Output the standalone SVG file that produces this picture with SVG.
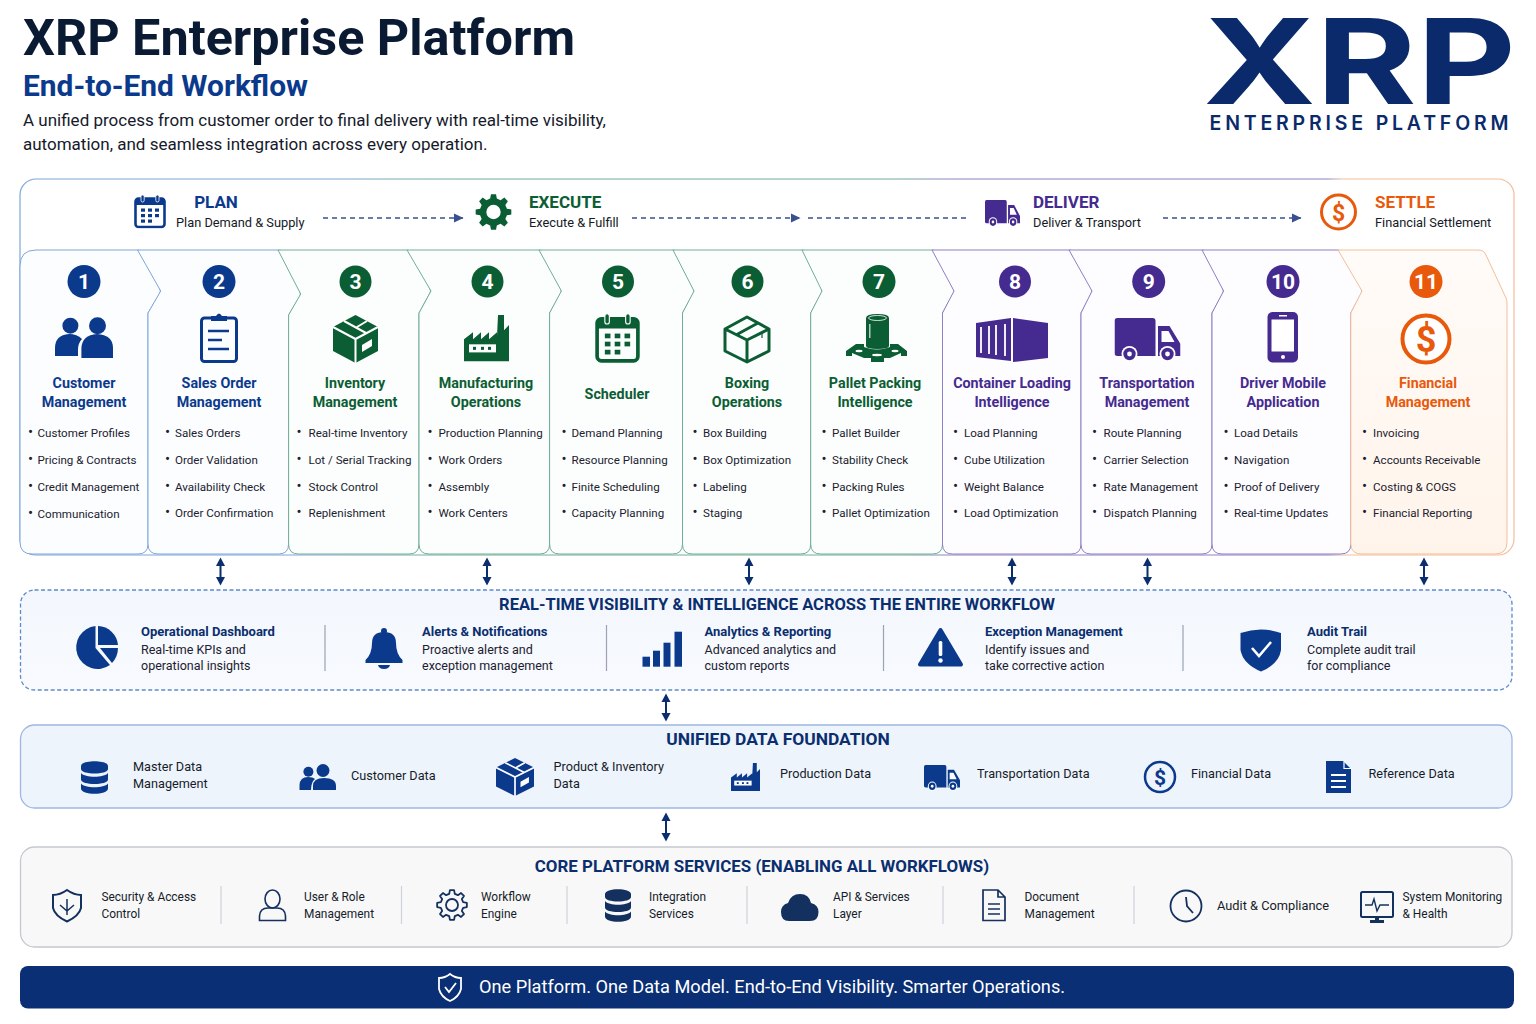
<svg xmlns="http://www.w3.org/2000/svg" xmlns:xlink="http://www.w3.org/1999/xlink" width="1536" height="1024" viewBox="0 0 1536 1024">
<style>
text{font-family:Roboto,"Noto Sans","Liberation Sans",sans-serif;}
.b{fill:#0B3A8C}.g{fill:#0B5D33}.p{fill:#452A8F}.o{fill:#E8590C}
.cb{color:#0B3A8C}.cg{color:#0B5D33}.cp{color:#452A8F}.co{color:#E8590C}.cn{color:#14305F}
.ttl{font-size:14.3px;font-weight:700;text-anchor:middle}
.ph{font-size:17px;font-weight:700}
.phs{font-size:12.8px;fill:#141a26}
.li{font-size:11.6px;fill:#1b2130}
.li tspan:nth-child(odd){font-size:15px}
.num{font-size:21px;font-weight:700;fill:#fff;text-anchor:middle}
.sec{font-size:16.500px;font-weight:700;fill:#0A2E6E;text-anchor:middle}
.it{font-size:13px;font-weight:700;fill:#0A2E6E}
.de{font-size:12.500px;fill:#1b2130}
.da{font-size:12.700px;fill:#161c2a}
.co2{font-size:11.900px;fill:#161c2a}
.card{stroke-width:1}
.dash{fill:none;stroke:#3A4F8F;stroke-width:1.4;stroke-dasharray:5 4}
.dbl{fill:none;stroke:#0A2E6E;stroke-width:2;marker-start:url(#dh);marker-end:url(#dh)}
.div{stroke:#9aa3af;stroke-width:1.2}
.div2{stroke:#cfd3d9;stroke-width:1.2}
.ol{fill:none;stroke:currentColor}
.f{fill:currentColor}
.w{fill:#fff}
</style>
<defs>
<linearGradient id="fr" gradientUnits="userSpaceOnUse" x1="20" y1="0" x2="1514" y2="0">
<stop offset="0" stop-color="#7FA6DA"/><stop offset=".2" stop-color="#7FA6DA"/><stop offset=".3" stop-color="#6FAE93"/><stop offset=".58" stop-color="#6FAE93"/><stop offset=".63" stop-color="#8E7FC6"/><stop offset=".875" stop-color="#8E7FC6"/><stop offset=".885" stop-color="#F3BE9A"/><stop offset="1" stop-color="#F3BE9A"/>
</linearGradient>
<linearGradient id="org" x1="0" y1="0" x2="0" y2="1"><stop offset="0" stop-color="#FFFBF8"/><stop offset="1" stop-color="#FFF4EA"/></linearGradient>
<linearGradient id="vis" x1="0" y1="0" x2="0" y2="1"><stop offset="0" stop-color="#F3F7FD"/><stop offset="1" stop-color="#F8FAFE"/></linearGradient>
<marker id="ah" markerWidth="10" markerHeight="10" refX="9" refY="5" orient="auto" markerUnits="userSpaceOnUse"><path d="M0,0.5 L9.5,5 L0,9.5Z" fill="#3A4F8F"/></marker>
<marker id="dh" markerWidth="10" markerHeight="10" refX="1" refY="5" orient="auto-start-reverse" markerUnits="userSpaceOnUse"><path d="M0,0.5L8.500,5L0,9.500Z" fill="#0A2E6E"/></marker>
<path id="gear" d="M11.16,-2.78L14.85,-2.09L14.85,2.09L11.16,2.78L9.86,5.92L11.98,9.03L9.03,11.98L5.92,9.86L2.78,11.16L2.09,14.85L-2.09,14.85L-2.78,11.16L-5.92,9.86L-9.03,11.98L-11.98,9.03L-9.86,5.92L-11.16,2.78L-14.85,2.09L-14.85,-2.09L-11.16,-2.78L-9.86,-5.92L-11.98,-9.03L-9.03,-11.98L-5.92,-9.86L-2.78,-11.16L-2.09,-14.85L2.09,-14.85L2.78,-11.16L5.92,-9.86L9.03,-11.98L11.98,-9.03L9.86,-5.92Z"/>
<symbol id="cal" viewBox="0 0 32 34" preserveAspectRatio="none">
<rect x="1.5" y="4" width="29" height="28.5" rx="3" class="ol" stroke-width="2.6"/><path class="f" d="M1.5,5.5Q1.5,4 3,4H29Q30.5,4 30.5,5.5V10.5H1.5Z"/>
<rect x="7" y="0.5" width="3.2" height="7" rx="1.6" class="f" stroke="#fff" stroke-width=".8"/><rect x="21.8" y="0.5" width="3.2" height="7" rx="1.6" class="f" stroke="#fff" stroke-width=".8"/>
<g class="f"><rect x="7" y="14" width="4" height="3.2"/><rect x="14" y="14" width="4" height="3.2"/><rect x="21" y="14" width="4" height="3.2"/><rect x="7" y="19.5" width="4" height="3.2"/><rect x="14" y="19.5" width="4" height="3.2"/><rect x="21" y="19.5" width="4" height="3.2"/><rect x="7" y="25" width="4" height="3.2"/><rect x="14" y="25" width="4" height="3.2"/></g>
</symbol>
<symbol id="truck" viewBox="0 0 66 44" preserveAspectRatio="none">
<g class="f"><path d="M3,0H38Q41,0 41,3V38H3Q0,38 0,35V3Q0,0 3,0Z"/><path d="M43.5,8H55L66,26V38H43.5Z"/></g>
<path class="w" d="M47,13H54L60,24H47Z"/>
<g><circle cx="15" cy="36" r="8" class="w"/><circle cx="15" cy="36" r="6.2" class="f"/><circle cx="15" cy="36" r="2.4" class="w"/><circle cx="53" cy="36" r="8" class="w"/><circle cx="53" cy="36" r="6.2" class="f"/><circle cx="53" cy="36" r="2.4" class="w"/></g>
</symbol>
<symbol id="factory" viewBox="0 0 45 46" preserveAspectRatio="none">
<path class="f" d="M0,46V24L9,17V24L17,17V24L25,17V24L33,17V21L34,0H40V15L45,10V46Z"/>
<rect x="5" y="29" width="27" height="8" class="w"/><g class="f"><rect x="9" y="31.5" width="3" height="3"/><rect x="17" y="31.5" width="3" height="3"/><rect x="24" y="31.5" width="3" height="3"/></g>
</symbol>
<symbol id="db" viewBox="0 0 27 33" preserveAspectRatio="none">
<g class="f"><path d="M0,5C0,-1.5 27,-1.5 27,5V8C27,14 0,14 0,8Z"/><path d="M0,12C4,17 23,17 27,12V18.5C27,24.5 0,24.5 0,18.5Z"/><path d="M0,22.5C4,27.5 23,27.5 27,22.5V27.5C27,34.5 0,34.5 0,27.5Z"/></g>
</symbol>
<symbol id="sbox" viewBox="0 0 45 48" preserveAspectRatio="none">
<path class="f" d="M22.5,0L45,12V36L22.5,48L0,36V12Z"/>
<g fill="none" stroke="#fff" stroke-width="2"><path d="M0,12L22.5,24L45,12M22.5,24V48"/><path d="M11,6L33,18M34,6L24,12"/></g>
<path class="w" d="M29,30L39,24V31L29,37Z"/>
</symbol>
</defs>

<g id="header">
<text x="23" y="55" font-size="50" font-weight="700" fill="#0B1A33" textLength="552" lengthAdjust="spacingAndGlyphs">XRP Enterprise Platform</text>
<text x="23" y="96" font-size="30" font-weight="700" class="b" textLength="285" lengthAdjust="spacingAndGlyphs">End-to-End Workflow</text>
<text x="23" y="126" font-size="17" fill="#15192a">A unified process from customer order to final delivery with real-time visibility,</text>
<text x="23" y="150" font-size="17" fill="#15192a">automation, and seamless integration across every operation.</text>
</g>
<g id="logo">
<text x="1203" y="104" font-size="118" font-weight="700" fill="#0A2A6B" style="font-family:Inter,'Noto Sans',sans-serif" textLength="313" lengthAdjust="spacingAndGlyphs">XRP</text>
<text x="1209.500" y="130" font-size="19.500" font-weight="600" fill="#0A2A6B" style="font-family:Inter,'Noto Sans',sans-serif" textLength="299" lengthAdjust="spacing">ENTERPRISE PLATFORM</text>
</g>

<g id="phase-frame"><rect x="20" y="179" width="1494" height="376" rx="16" fill="#fff" stroke="url(#fr)" stroke-width="1.2"/></g>

<g id="phase-plan">
<use xlink:href="#cal" href="#cal" x="134" y="194.500" width="32" height="34" class="cb"/>
<text x="216" y="207.500" class="ph b" text-anchor="middle" font-size="16">PLAN</text>
<text x="176" y="227" class="phs">Plan Demand &amp; Supply</text>
</g>
<g id="phase-execute">
<g transform="translate(493.500,212) scale(1.2)" class="cg"><use xlink:href="#gear" href="#gear" class="f"/><circle r="6" class="w"/></g>
<text x="529" y="207.500" class="ph g">EXECUTE</text>
<text x="529" y="227" class="phs">Execute &amp; Fulfill</text>
</g>
<g id="phase-deliver">
<use xlink:href="#truck" href="#truck" x="985" y="200" width="35" height="27" class="cp"/>
<text x="1033" y="207.500" class="ph p">DELIVER</text>
<text x="1033" y="227" class="phs">Deliver &amp; Transport</text>
</g>
<g id="phase-settle">
<circle cx="1338.500" cy="212" r="17" fill="none" stroke="#E8590C" stroke-width="3"/>
<text x="1338.500" y="220.500" font-size="23" font-weight="700" class="o" text-anchor="middle">$</text>
<text x="1375" y="207.500" class="ph o">SETTLE</text>
<text x="1375" y="227" class="phs">Financial Settlement</text>
</g>

<g id="card-1">
<path class="card" fill="#FCFDFF" stroke="#7FA6DA" d="M36,250H137.500Q142.500,250 144.500,255L160,289Q160.700,291 160,293L148,313V544Q148,554 138,554H32Q20,554 20,542V266Q20,250 36,250Z"/>
<circle cx="84" cy="281.500" r="16.500" class="b"/><text x="84" y="289" class="num">1</text>
<g class="b"><circle cx="70.400" cy="325.700" r="8"/><circle cx="97.500" cy="325.700" r="8.500"/><path d="M55,356V348Q55,335 69,334Q77,334 82,339Q78,343 78,350V356Z"/><path d="M81.400,358V348Q82,335 97,334Q113,335 113,348V358Z"/></g>
<text x="84" y="388" class="ttl b">Customer</text><text x="84" y="407" class="ttl b">Management</text>
<text class="li"><tspan x="28" y="437">•</tspan><tspan x="37.500">Customer Profiles</tspan><tspan x="28" y="464">•</tspan><tspan x="37.500">Pricing &amp; Contracts</tspan><tspan x="28" y="491">•</tspan><tspan x="37.500">Credit Management</tspan><tspan x="28" y="518">•</tspan><tspan x="37.500">Communication</tspan></text>
</g>
<g id="card-2">
<path class="card" fill="#FCFDFF" stroke="#7FA6DA" d="M137.500,250H278Q283,250 285,255L300,292Q300.700,294 300,296L288.600,315V544Q288.600,554 278.600,554H158Q148,554 148,544V313L160.700,291L137.500,250Z"/>
<circle cx="219" cy="281.500" r="16.500" class="b"/><text x="219" y="289" class="num">2</text>
<g class="cb"><rect x="201.500" y="318" width="35" height="43.500" rx="3" class="ol" stroke-width="3"/><path class="f" d="M211,321V316H216Q219,311 222,316H227V321Z"/><path class="ol" stroke-width="2.500" d="M208,331H229M208,340H222M208,349H229"/></g>
<text x="219" y="388" class="ttl b">Sales Order</text><text x="219" y="407" class="ttl b">Management</text>
<text class="li"><tspan x="165" y="437">•</tspan><tspan x="175" >Sales Orders</tspan><tspan x="165" y="464">•</tspan><tspan x="175">Order Validation</tspan><tspan x="165" y="491">•</tspan><tspan x="175">Availability Check</tspan><tspan x="165" y="517">•</tspan><tspan x="175">Order Confirmation</tspan></text>
</g>
<g id="card-3">
<path class="card" fill="#FCFEFD" stroke="#6FAE93" d="M278,250H407Q412,250 415,255L430,289Q431,291 430,293L419,313V544Q419,554 409,554H298.600Q288.600,554 288.600,544V315L300.700,294L278,250Z"/>
<circle cx="355.500" cy="281.500" r="16" class="g"/><text x="355.500" y="289" class="num">3</text>
<use xlink:href="#sbox" href="#sbox" x="333" y="315" width="45" height="48" class="cg"/>
<text x="355" y="388" class="ttl g">Inventory</text><text x="355" y="407" class="ttl g">Management</text>
<text class="li"><tspan x="296.500" y="437">•</tspan><tspan x="308.500">Real-time Inventory</tspan><tspan x="296.500" y="464">•</tspan><tspan x="308.500">Lot / Serial Tracking</tspan><tspan x="296.500" y="491">•</tspan><tspan x="308.500">Stock Control</tspan><tspan x="296.500" y="517">•</tspan><tspan x="308.500">Replenishment</tspan></text>
</g>
<g id="card-4">
<path class="card" fill="#FCFEFD" stroke="#6FAE93" d="M407,250H539Q544,250 546,255L561,289Q561.400,291 561,293L549.600,313V544Q549.600,554 539.600,554H429Q419,554 419,544V313L431,291L407,250Z"/>
<circle cx="487.500" cy="281.500" r="16" class="g"/><text x="487.500" y="289" class="num">4</text>
<use xlink:href="#factory" href="#factory" x="464" y="315" width="45" height="46.500" class="cg"/>
<text x="486" y="388" class="ttl g">Manufacturing</text><text x="486" y="407" class="ttl g">Operations</text>
<text class="li"><tspan x="427.500" y="437">•</tspan><tspan x="438.500">Production Planning</tspan><tspan x="427.500" y="464">•</tspan><tspan x="438.500">Work Orders</tspan><tspan x="427.500" y="491">•</tspan><tspan x="438.500">Assembly</tspan><tspan x="427.500" y="517">•</tspan><tspan x="438.500">Work Centers</tspan></text>
</g>
<g id="card-5">
<path class="card" fill="#FCFEFD" stroke="#6FAE93" d="M539,250H673Q678,250 680,255L693.500,289Q694,291 693.500,293L682.500,313V544Q682.500,554 672.500,554H559.600Q549.600,554 549.600,544V313L561.400,291L539,250Z"/>
<circle cx="618" cy="281.500" r="16" class="g"/><text x="618" y="289" class="num">5</text>
<use xlink:href="#cal" href="#cal" x="595" y="313" width="45" height="50" class="cg"/>
<text x="617" y="399" class="ttl g">Scheduler</text>
<text class="li"><tspan x="561.500" y="437">•</tspan><tspan x="571.500">Demand Planning</tspan><tspan x="561.500" y="464">•</tspan><tspan x="571.500">Resource Planning</tspan><tspan x="561.500" y="491">•</tspan><tspan x="571.500">Finite Scheduling</tspan><tspan x="561.500" y="517">•</tspan><tspan x="571.500">Capacity Planning</tspan></text>
</g>
<g id="card-6">
<path class="card" fill="#FCFEFD" stroke="#6FAE93" d="M673,250H802Q807,250 809,255L821.500,289Q822,291 821.500,293L810.700,313V544Q810.700,554 800.700,554H692.500Q682.500,554 682.500,544V313L694,291L673,250Z"/>
<circle cx="747.500" cy="281.500" r="16" class="g"/><text x="747.500" y="289" class="num">6</text>
<g class="cg"><path class="ol" stroke-width="3" stroke-linejoin="round" d="M747,317L769,329V351L747,362L725,351V329ZM725,329L747,340L769,329M747,340V362M736,335L758,323"/><path class="ol" stroke-width="1.200" d="M762,333V338"/></g>
<text x="747" y="388" class="ttl g">Boxing</text><text x="747" y="407" class="ttl g">Operations</text>
<text class="li"><tspan x="692.500" y="437">•</tspan><tspan x="703">Box Building</tspan><tspan x="692.500" y="464">•</tspan><tspan x="703">Box Optimization</tspan><tspan x="692.500" y="491">•</tspan><tspan x="703">Labeling</tspan><tspan x="692.500" y="517">•</tspan><tspan x="703">Staging</tspan></text>
</g>
<g id="card-7">
<path class="card" fill="#FCFEFD" stroke="#6FAE93" d="M802,250H932Q937,250 939,255L953.500,289Q954,291 953.500,293L942.500,313V544Q942.500,554 932.500,554H820.700Q810.700,554 810.700,544V313L822,291L802,250Z"/>
<circle cx="879" cy="281.500" r="16.500" class="g"/><text x="879" y="289" class="num">7</text>
<g class="g"><path d="M866,318Q866,314 877.500,314Q889,314 889,318V346Q889,349 877.500,349Q866,349 866,346Z"/><path d="M856,344H864V347Q877,352 890,347V344H898L907,351V356H901V353L890,358H884V362H871V358H864L852,353V356H846V351Z"/></g>
<ellipse cx="877.500" cy="318" rx="9" ry="2.500" fill="none" stroke="#fff" stroke-width=".8"/><rect x="869" y="324" width="1.500" height="14" fill="#fff" opacity=".7"/>
<g fill="#fff"><ellipse cx="859" cy="351" rx="3.500" ry="1.200"/><ellipse cx="895" cy="351" rx="3.500" ry="1.200"/><ellipse cx="877" cy="355" rx="5" ry="1.200"/></g>
<text x="875" y="388" class="ttl g">Pallet Packing</text><text x="875" y="407" class="ttl g">Intelligence</text>
<text class="li"><tspan x="821.500" y="437">•</tspan><tspan x="832">Pallet Builder</tspan><tspan x="821.500" y="464">•</tspan><tspan x="832">Stability Check</tspan><tspan x="821.500" y="491">•</tspan><tspan x="832">Packing Rules</tspan><tspan x="821.500" y="517">•</tspan><tspan x="832">Pallet Optimization</tspan></text>
</g>
<g id="card-8">
<path class="card" fill="#FDFCFF" stroke="#8E7FC6" d="M932,250H1069Q1074,250 1076,255L1091.500,289Q1092,291 1091.500,293L1081,313V544Q1081,554 1071,554H952.500Q942.500,554 942.500,544V313L954,291L932,250Z"/>
<circle cx="1015" cy="281.500" r="16" class="p"/><text x="1015" y="289" class="num">8</text>
<g class="p"><path d="M976,323L1011,318V361L976,357Z"/><path d="M1013,318L1048,323V358L1013,362Z"/></g>
<path d="M981,327V353M989,326V354M996,325V355M1005,324V356" stroke="#fff" stroke-width="1.800"/>
<text x="1012" y="388" class="ttl p">Container Loading</text><text x="1012" y="407" class="ttl p">Intelligence</text>
<text class="li"><tspan x="953" y="437">•</tspan><tspan x="964">Load Planning</tspan><tspan x="953" y="464">•</tspan><tspan x="964">Cube Utilization</tspan><tspan x="953" y="491">•</tspan><tspan x="964">Weight Balance</tspan><tspan x="953" y="517">•</tspan><tspan x="964">Load Optimization</tspan></text>
</g>
<g id="card-9">
<path class="card" fill="#FDFCFF" stroke="#8E7FC6" d="M1069,250H1202Q1207,250 1209,255L1223,289Q1223.600,291 1223,293L1212,313V544Q1212,554 1202,554H1091Q1081,554 1081,544V313L1092,291L1069,250Z"/>
<circle cx="1148.700" cy="281.500" r="16.500" class="p"/><text x="1148.700" y="289" class="num">9</text>
<use xlink:href="#truck" href="#truck" x="1114.500" y="318" width="66" height="44" class="cp"/>
<text x="1147" y="388" class="ttl p">Transportation</text><text x="1147" y="407" class="ttl p">Management</text>
<text class="li"><tspan x="1092" y="437">•</tspan><tspan x="1103.500">Route Planning</tspan><tspan x="1092" y="464">•</tspan><tspan x="1103.500">Carrier Selection</tspan><tspan x="1092" y="491">•</tspan><tspan x="1103.500">Rate Management</tspan><tspan x="1092" y="517">•</tspan><tspan x="1103.500">Dispatch Planning</tspan></text>
</g>
<g id="card-10">
<path class="card" fill="#FDFCFF" stroke="#8E7FC6" d="M1202,250H1338Q1343,250 1346,255L1361.500,289Q1362,291 1361.500,293L1350.800,313V544Q1350.800,554 1340.800,554H1222Q1212,554 1212,544V313L1223.600,291L1202,250Z"/>
<circle cx="1283" cy="281.500" r="16.500" class="p"/><text x="1283" y="289" class="num">10</text>
<rect x="1267.500" y="312" width="30.500" height="50.500" rx="5" class="p"/><rect x="1271.500" y="319.500" width="22.500" height="32" fill="#fff"/><rect x="1279" y="315" width="8" height="1.500" fill="#fff"/><circle cx="1283" cy="357" r="2" fill="#fff"/>
<text x="1283" y="388" class="ttl p">Driver Mobile</text><text x="1283" y="407" class="ttl p">Application</text>
<text class="li"><tspan x="1223.500" y="437">•</tspan><tspan x="1234">Load Details</tspan><tspan x="1223.500" y="464">•</tspan><tspan x="1234">Navigation</tspan><tspan x="1223.500" y="491">•</tspan><tspan x="1234">Proof of Delivery</tspan><tspan x="1223.500" y="517">•</tspan><tspan x="1234">Real-time Updates</tspan></text>
</g>
<g id="card-11">
<path class="card" fill="url(#org)" stroke="#F3BE9A" d="M1338,250H1478Q1484,250 1486,255L1506,298Q1507,300 1507,304V542Q1507,554 1495,554H1362Q1350.800,554 1350.800,544V313L1362,291Z"/>
<circle cx="1426" cy="281.500" r="16.500" class="o"/><text x="1426" y="289" class="num">11</text>
<circle cx="1426" cy="339" r="23.500" fill="#fff" stroke="#E8590C" stroke-width="4"/>
<text x="1426" y="352" font-size="36" font-weight="700" class="o" text-anchor="middle">$</text>
<text x="1428" y="388" class="ttl o">Financial</text><text x="1428" y="407" class="ttl o">Management</text>
<text class="li"><tspan x="1362" y="437">•</tspan><tspan x="1373">Invoicing</tspan><tspan x="1362" y="464">•</tspan><tspan x="1373">Accounts Receivable</tspan><tspan x="1362" y="491">•</tspan><tspan x="1373">Costing &amp; COGS</tspan><tspan x="1362" y="517">•</tspan><tspan x="1373">Financial Reporting</tspan></text>
</g>

<g id="connectors">
<path class="dash" marker-end="url(#ah)" d="M323,218H463"/>
<path class="dash" marker-end="url(#ah)" d="M632,218H800"/>
<path class="dash" d="M808,218H970"/>
<path class="dash" marker-end="url(#ah)" d="M1163,218H1301"/>
<path class="dbl" d="M220.500,565V578"/><path class="dbl" d="M487,565V578"/><path class="dbl" d="M749,565V578"/><path class="dbl" d="M1012,565V578"/><path class="dbl" d="M1147.500,565V578"/><path class="dbl" d="M1424,565V578"/>
<path class="dbl" d="M666,701V714"/><path class="dbl" d="M666,820V834"/>
</g>

<g id="visibility">
<rect x="20.500" y="590" width="1491.500" height="100" rx="14" fill="url(#vis)" stroke="#5B8BC9" stroke-width="1.300" stroke-dasharray="4 2.500"/>
<text x="777" y="609.500" class="sec">REAL-TIME VISIBILITY &amp; INTELLIGENCE ACROSS THE ENTIRE WORKFLOW</text>
<path class="div" d="M325,625V671M606.500,625V671M883.500,625V671M1183,625V671"/>
<g id="vis-dashboard"><g class="b"><path d="M95.500,648V626A21.500,21.500 0 1 0 110,665Z"/><path d="M98,626A21,21 0 0 1 118,645H98Z"/><path d="M100,648H118A22,22 0 0 1 112,663Z"/></g>
<text x="141" y="636" class="it">Operational Dashboard</text><text x="141" y="654" class="de">Real-time KPIs and</text><text x="141" y="670" class="de">operational insights</text></g>
<g id="vis-alerts"><g class="b"><circle cx="384" cy="631" r="3"/><path d="M365.500,660Q372,654 372,643Q372,632 384,632Q396,632 396,643Q396,654 402.500,660V663H365.500Z"/><path d="M378,665H390Q389,669 384,669Q379,669 378,665Z"/></g>
<text x="422" y="636" class="it">Alerts &amp; Notifications</text><text x="422" y="654" class="de">Proactive alerts and</text><text x="422" y="670" class="de">exception management</text></g>
<g id="vis-analytics"><g class="b"><rect x="642.500" y="656.700" width="7.500" height="10"/><rect x="653" y="650.700" width="7" height="16"/><rect x="663.500" y="642.700" width="7" height="24"/><rect x="674.500" y="631.700" width="7.500" height="35"/></g>
<text x="704.500" y="636" class="it">Analytics &amp; Reporting</text><text x="704.500" y="654" class="de">Advanced analytics and</text><text x="704.500" y="670" class="de">custom reports</text></g>
<g id="vis-exception"><path class="b" stroke="#0B3A8C" stroke-width="4" stroke-linejoin="round" d="M940.500,630L961,664.500H920Z"/><rect x="938.700" y="641" width="3.600" height="15" rx="1.500" fill="#fff"/><circle cx="940.500" cy="660.500" r="2.200" fill="#fff"/>
<text x="985" y="636" class="it">Exception Management</text><text x="985" y="654" class="de">Identify issues and</text><text x="985" y="670" class="de">take corrective action</text></g>
<g id="vis-audit"><path class="b" d="M1240.500,633Q1261,626 1281,633V650Q1279,664 1261,671.500Q1243,664 1240.500,650Z"/><path d="M1252,648L1259,656L1271,642" fill="none" stroke="#fff" stroke-width="2.600"/>
<text x="1307" y="636" class="it">Audit Trail</text><text x="1307" y="654" class="de">Complete audit trail</text><text x="1307" y="670" class="de">for compliance</text></g>
</g>

<g id="data-foundation">
<rect x="20.500" y="725" width="1491.500" height="83" rx="14" fill="#EEF4FC" stroke="#9DB8E0" stroke-width="1.300"/>
<text x="778" y="745" class="sec" style="font-size:17.400px">UNIFIED DATA FOUNDATION</text>
<g id="data-master"><use xlink:href="#db" href="#db" x="81" y="761" width="27" height="33" class="cb"/><text x="133" y="771" class="da">Master Data</text><text x="133" y="788" class="da">Management</text></g>
<g id="data-customer" class="b"><circle cx="308.400" cy="771.700" r="5"/><circle cx="323" cy="770.500" r="6.500"/><path d="M299.500,790V785Q300,777 308,777Q313,777 315,779Q311,782 311,790Z"/><path d="M313,790V786Q313,778 324,778Q336,778 336,786V790Z"/><text x="351" y="780" class="da">Customer Data</text></g>
<g id="data-product"><use xlink:href="#sbox" href="#sbox" x="496" y="758" width="38" height="38" class="cb"/><text x="553.500" y="771" class="da">Product &amp; Inventory</text><text x="553.500" y="788" class="da">Data</text></g>
<g id="data-production"><use xlink:href="#factory" href="#factory" x="731" y="763" width="29" height="28" class="cb"/><text x="780" y="778" class="da">Production Data</text></g>
<g id="data-transport"><use xlink:href="#truck" href="#truck" x="924" y="765" width="36" height="26" class="cb"/><text x="977" y="778" class="da">Transportation Data</text></g>
<g id="data-financial"><circle cx="1160" cy="777" r="15" fill="none" stroke="#0B3A8C" stroke-width="2.500"/><text x="1160" y="785" font-size="21" font-weight="700" class="b" text-anchor="middle">$</text><text x="1191" y="778" class="da">Financial Data</text></g>
<g id="data-reference"><path class="b" d="M1326,761H1343L1351,769V793H1326Z"/><path d="M1344,761.500V768.500H1351" fill="none" stroke="#fff" stroke-width="1.200"/><path d="M1331,775H1346M1331,781H1346M1331,787H1346" stroke="#fff" stroke-width="1.800"/><text x="1368.500" y="778" class="da">Reference Data</text></g>
</g>

<g id="core-services">
<rect x="20.500" y="847" width="1491.500" height="100" rx="14" fill="#F8F8F9" stroke="#C4C8CF" stroke-width="1.300"/>
<text x="762" y="872" class="sec" style="font-size:16.900px">CORE PLATFORM SERVICES (ENABLING ALL WORKFLOWS)</text>
<path class="div2" d="M221,886V924M401.500,886V924M567,886V924M747,886V924M943,886V924M1134,886V924"/>
<g id="core-security" class="cn"><path class="ol" stroke-width="2" d="M67,890Q60,895 53,895V908Q55,916 67,921.500Q79,916 81,908V895Q74,895 67,890Z"/><path class="ol" stroke-width="1.500" d="M67,899V915M60,905L67,911L74,905"/><text x="101.500" y="901" class="co2">Security &amp; Access</text><text x="101.500" y="918" class="co2">Control</text></g>
<g id="core-user" class="cn"><ellipse cx="272.500" cy="899" rx="7.500" ry="9" class="ol" stroke-width="1.600"/><path class="ol" stroke-width="1.600" d="M259.500,920.500V916Q260,908 268,908H277Q285,908 285.500,916V920.500Z"/><text x="304" y="901" class="co2">User &amp; Role</text><text x="304" y="918" class="co2">Management</text></g>
<g id="core-workflow" class="cn"><g transform="translate(452,905)"><use xlink:href="#gear" href="#gear" class="ol" stroke-width="1.800" stroke-linejoin="round"/><circle r="6" class="ol" stroke-width="1.800"/></g><text x="481" y="901" class="co2">Workflow</text><text x="481" y="918" class="co2">Engine</text></g>
<g id="core-integration"><use xlink:href="#db" href="#db" x="605" y="889" width="26" height="33" class="cn"/><text x="649" y="901" class="co2">Integration</text><text x="649" y="918" class="co2">Services</text></g>
<g id="core-api"><path fill="#14305F" d="M789,921Q781,921 781,912Q781,905 788,903Q791,894 800,894Q809,894 811,903Q818.500,905 818.500,912Q818.500,921 810,921Z"/><text x="833" y="901" class="co2">API &amp; Services</text><text x="833" y="918" class="co2">Layer</text></g>
<g id="core-document" class="cn"><path class="ol" stroke-width="1.700" d="M983,890H998L1005,897V920.500H983ZM998,890V897H1005M988,904H1000M988,909H1000M988,914H1000"/><text x="1024.500" y="901" class="co2">Document</text><text x="1024.500" y="918" class="co2">Management</text></g>
<g id="core-audit" class="cn"><circle cx="1186" cy="906" r="15.500" class="ol" stroke-width="1.800"/><path class="ol" stroke-width="1.800" d="M1186,897L1187,906L1193,913"/><text x="1217" y="910" class="co2" style="font-size:12.800px">Audit &amp; Compliance</text></g>
<g id="core-monitor" class="cn"><rect x="1361" y="892" width="32" height="25" rx="1.500" class="ol" stroke-width="2"/><path class="ol" stroke-width="1.400" d="M1365,905H1372L1374,899L1377,911L1380,905H1389"/><path class="f" d="M1375,917H1379V920H1384V923H1370V920H1375Z"/><text x="1402.500" y="901" class="co2">System Monitoring</text><text x="1402.500" y="918" class="co2">&amp; Health</text></g>
</g>

<g id="banner">
<rect x="20" y="966" width="1494" height="42.500" rx="8" fill="#0A2F75"/>
<path d="M450,974Q445,978 439,978V989Q441,997 450,1001Q459,997 461,989V978Q455,978 450,974Z" fill="none" stroke="#fff" stroke-width="1.800"/>
<path d="M445,987L449,992L456,983" fill="none" stroke="#fff" stroke-width="1.800"/>
<text x="479" y="993" font-size="18.200" fill="#fff">One Platform. One Data Model. End-to-End Visibility. Smarter Operations.</text>
</g>
</svg>
